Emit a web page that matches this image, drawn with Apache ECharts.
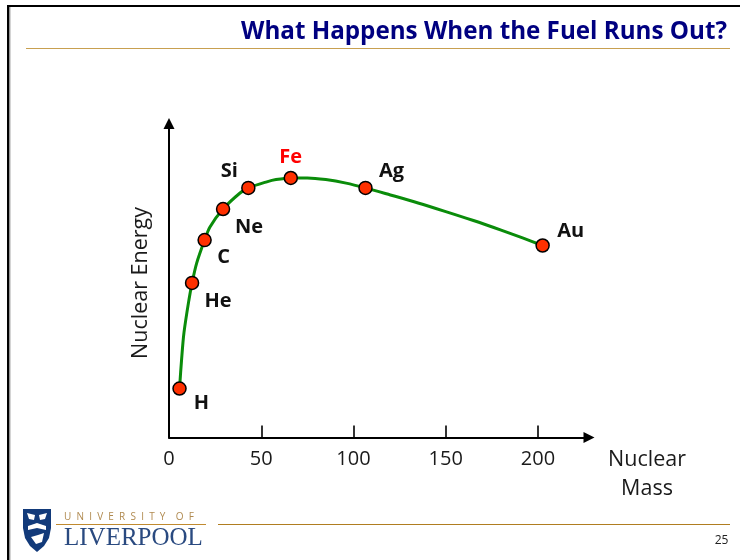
<!DOCTYPE html>
<html><head><meta charset="utf-8">
<style>html,body{margin:0;padding:0;background:#fff}#c{width:740px;height:560px}</style>
<script src="https://cdn.jsdelivr.net/npm/echarts@6/dist/echarts.min.js"></script>
</head><body><div id="c"></div>
<script>
const elements=["H","He","C","Ne","Si","Fe","Ag","Au"];
const masses=[5.7,12.5,19.3,29.3,43,66,106.5,202.5];
const energies=[1.53,4.83,6.17,7.14,7.8,8.11,7.8,6.0];
const curveMass=[5.7,6.8,8.1,10.8,12.5,15,19.3,22.2,29.3,38.5,43,53,58,66,75,85,96,106.5,120,135,150,165,180,192,202.5];
const curveEnergy=[1.53,2.42,3.27,4.3,4.83,5.45,6.17,6.58,7.14,7.64,7.8,7.99,8.06,8.11,8.11,8.06,7.95,7.8,7.58,7.33,7.06,6.78,6.48,6.23,6.0];
const xTicks=[0,50,100,150,200];
const chart=echarts.init(document.getElementById('c'),null,{renderer:'canvas'});
const font='"Open Sans","Noto Sans",sans-serif';
const labelOffsets={H:[22,15],He:[26,18],C:[19,17],Ne:[26,18],Si:[-19,-17],Fe:[0,-21],Ag:[26,-17],Au:[28,-14]};
chart.setOption({
 animation:false,
 grid:{left:169,top:123.5,width:420,height:314,containLabel:false},
 xAxis:{type:'value',min:0,max:227.64,interval:50,
  axisLine:{show:true,onZero:false,symbol:['none','triangle'],symbolSize:[11,11],lineStyle:{color:'#000',width:2}},
  axisTick:{show:true,inside:true,length:12,lineStyle:{color:'#000',width:1.6},customValues:[50,100,150,200]},
  axisLabel:{color:'#1a1a1a',fontFamily:font,fontSize:20,margin:12,customValues:xTicks,formatter:v=>String(v)},
  splitLine:{show:false}},
 yAxis:{type:'value',min:0,max:9.8125,
  axisLine:{show:true,symbol:['none','triangle'],symbolSize:[11,11],lineStyle:{color:'#000',width:2}},
  axisTick:{show:false},axisLabel:{show:false},splitLine:{show:false}},
 series:[
  {type:'line',data:curveMass.map((m,i)=>[m,curveEnergy[i]]),smooth:0.3,symbol:'none',silent:true,
   lineStyle:{color:'#0a8c0a',width:3},z:2},
  {type:'scatter',data:masses.map((m,i)=>({value:[m,energies[i]],name:elements[i],
     label:{show:true,position:'inside',offset:labelOffsets[elements[i]],formatter:elements[i],opacity:1,
       color:elements[i]==='Fe'?'#ff0000':'#111',fontFamily:font,fontWeight:'bold',fontSize:20}})),
   symbol:'circle',symbolSize:13,itemStyle:{color:'#ff3000',borderColor:'#000',borderWidth:1.5,opacity:1},z:3}
 ],
 graphic:[
  {type:'rect',shape:{x:7,y:5,width:733,height:2},style:{fill:'#000'}},
  {type:'rect',shape:{x:7,y:5,width:2.5,height:555},style:{fill:'#000'}},
  {type:'rect',shape:{x:9.5,y:7,width:1,height:553},style:{fill:'#aaa'}},
  {type:'rect',shape:{x:26,y:48,width:704,height:1},style:{fill:'#c8a050'}},
  {type:'rect',shape:{x:56,y:524,width:150,height:1},style:{fill:'#c08a30'}},
  {type:'rect',shape:{x:218,y:524,width:512,height:1},style:{fill:'#b07d20'}},
  {type:'text',style:{x:727,y:32,text:'What Happens When the Fuel Runs Out?',align:'right',verticalAlign:'middle',fill:'#000080',font:'bold 24.2px '+font}},
  {type:'text',rotation:Math.PI/2,x:141,y:283,style:{x:0,y:0,text:'Nuclear Energy',align:'center',verticalAlign:'middle',fill:'#1a1a1a',font:'21.5px '+font}},
  {type:'text',style:{x:647,y:460,text:'Nuclear',align:'center',verticalAlign:'middle',fill:'#1a1a1a',font:'21.5px '+font}},
  {type:'text',style:{x:647,y:489,text:'Mass',align:'center',verticalAlign:'middle',fill:'#1a1a1a',font:'21.5px '+font}},
  {type:'text',style:{x:721.5,y:541,text:'25',align:'center',verticalAlign:'middle',fill:'#222',font:'12px '+font}},
  {type:'text',style:{x:64,y:517,text:'U  N  I  V  E  R  S  I  T  Y    O  F',align:'left',verticalAlign:'middle',fill:'#b08a50',font:'10px '+font}},
  {type:'text',style:{x:64,y:538,text:'LIVERPOOL',align:'left',verticalAlign:'middle',fill:'#2a4a80',font:'25px "Liberation Serif",serif'}},
  {type:'polygon',shape:{points:[[23,509],[51,509],[51,528],[49,538],[44,546],[37,552],[30,546],[25,538],[23,528]]},style:{fill:'#123a7a'}},
  {type:'polygon',shape:{points:[[27,513],[35,515],[34,520],[29,519]]},style:{fill:'#fff'}},
  {type:'polygon',shape:{points:[[39,515],[47,513],[45,519],[40,520]]},style:{fill:'#fff'}},
  {type:'polygon',shape:{points:[[28,526],[37,523],[46,526],[46,530],[37,528],[28,530]]},style:{fill:'#fff'}},
  {type:'polygon',shape:{points:[[31,537],[38,535],[44,533],[42,542],[36,544]]},style:{fill:'#fff'}}
 ]
});
</script></body></html>
